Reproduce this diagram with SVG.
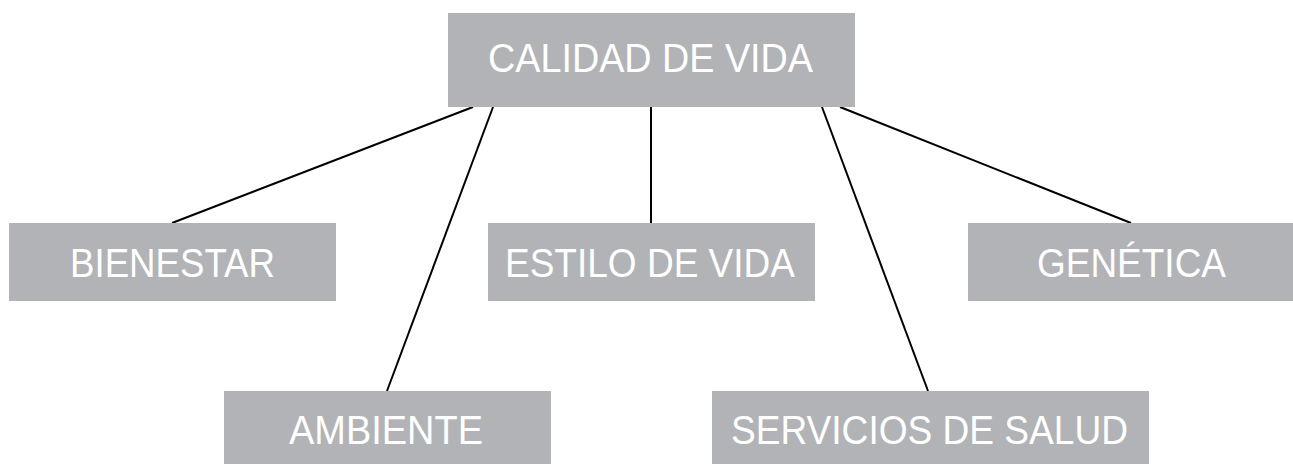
<svg xmlns="http://www.w3.org/2000/svg" width="1293" height="464" viewBox="0 0 1293 464">
<style>
.box{fill:#b1b3b6}
.lbl{font-family:"Liberation Sans",Arial,sans-serif;font-size:40px;fill:#ffffff}
.conn line{stroke:#000000;stroke-width:2;fill:none}
</style>
<rect width="1293" height="464" fill="#ffffff"/>
<g id="connectors" class="conn">
<line x1="473" y1="107" x2="172" y2="223"/>
<line x1="493" y1="107" x2="387" y2="391"/>
<line x1="651" y1="107" x2="651" y2="223"/>
<line x1="822" y1="107" x2="928" y2="391"/>
<line x1="840" y1="107" x2="1131" y2="223"/>
</g>
<g id="calidad-de-vida">
<rect class="box" x="448" y="13" width="407" height="94"/>
<text class="lbl" x="488" y="72" textLength="325" lengthAdjust="spacingAndGlyphs">CALIDAD DE VIDA</text>
</g>
<g id="bienestar">
<rect class="box" x="9" y="223" width="327" height="78"/>
<text class="lbl" x="70" y="277" textLength="205" lengthAdjust="spacingAndGlyphs">BIENESTAR</text>
</g>
<g id="estilo-de-vida">
<rect class="box" x="488" y="223" width="327" height="78"/>
<text class="lbl" x="505" y="277" textLength="290" lengthAdjust="spacingAndGlyphs">ESTILO DE VIDA</text>
</g>
<g id="genetica">
<rect class="box" x="968" y="223" width="325" height="78"/>
<text class="lbl" x="1037" y="277" textLength="189" lengthAdjust="spacingAndGlyphs">GENÉTICA</text>
</g>
<g id="ambiente">
<rect class="box" x="224" y="391" width="327" height="73"/>
<text class="lbl" x="289" y="444" textLength="194" lengthAdjust="spacingAndGlyphs">AMBIENTE</text>
</g>
<g id="servicios-de-salud">
<rect class="box" x="712" y="391" width="437" height="73"/>
<text class="lbl" x="731" y="444" textLength="397" lengthAdjust="spacingAndGlyphs">SERVICIOS DE SALUD</text>
</g>
</svg>
